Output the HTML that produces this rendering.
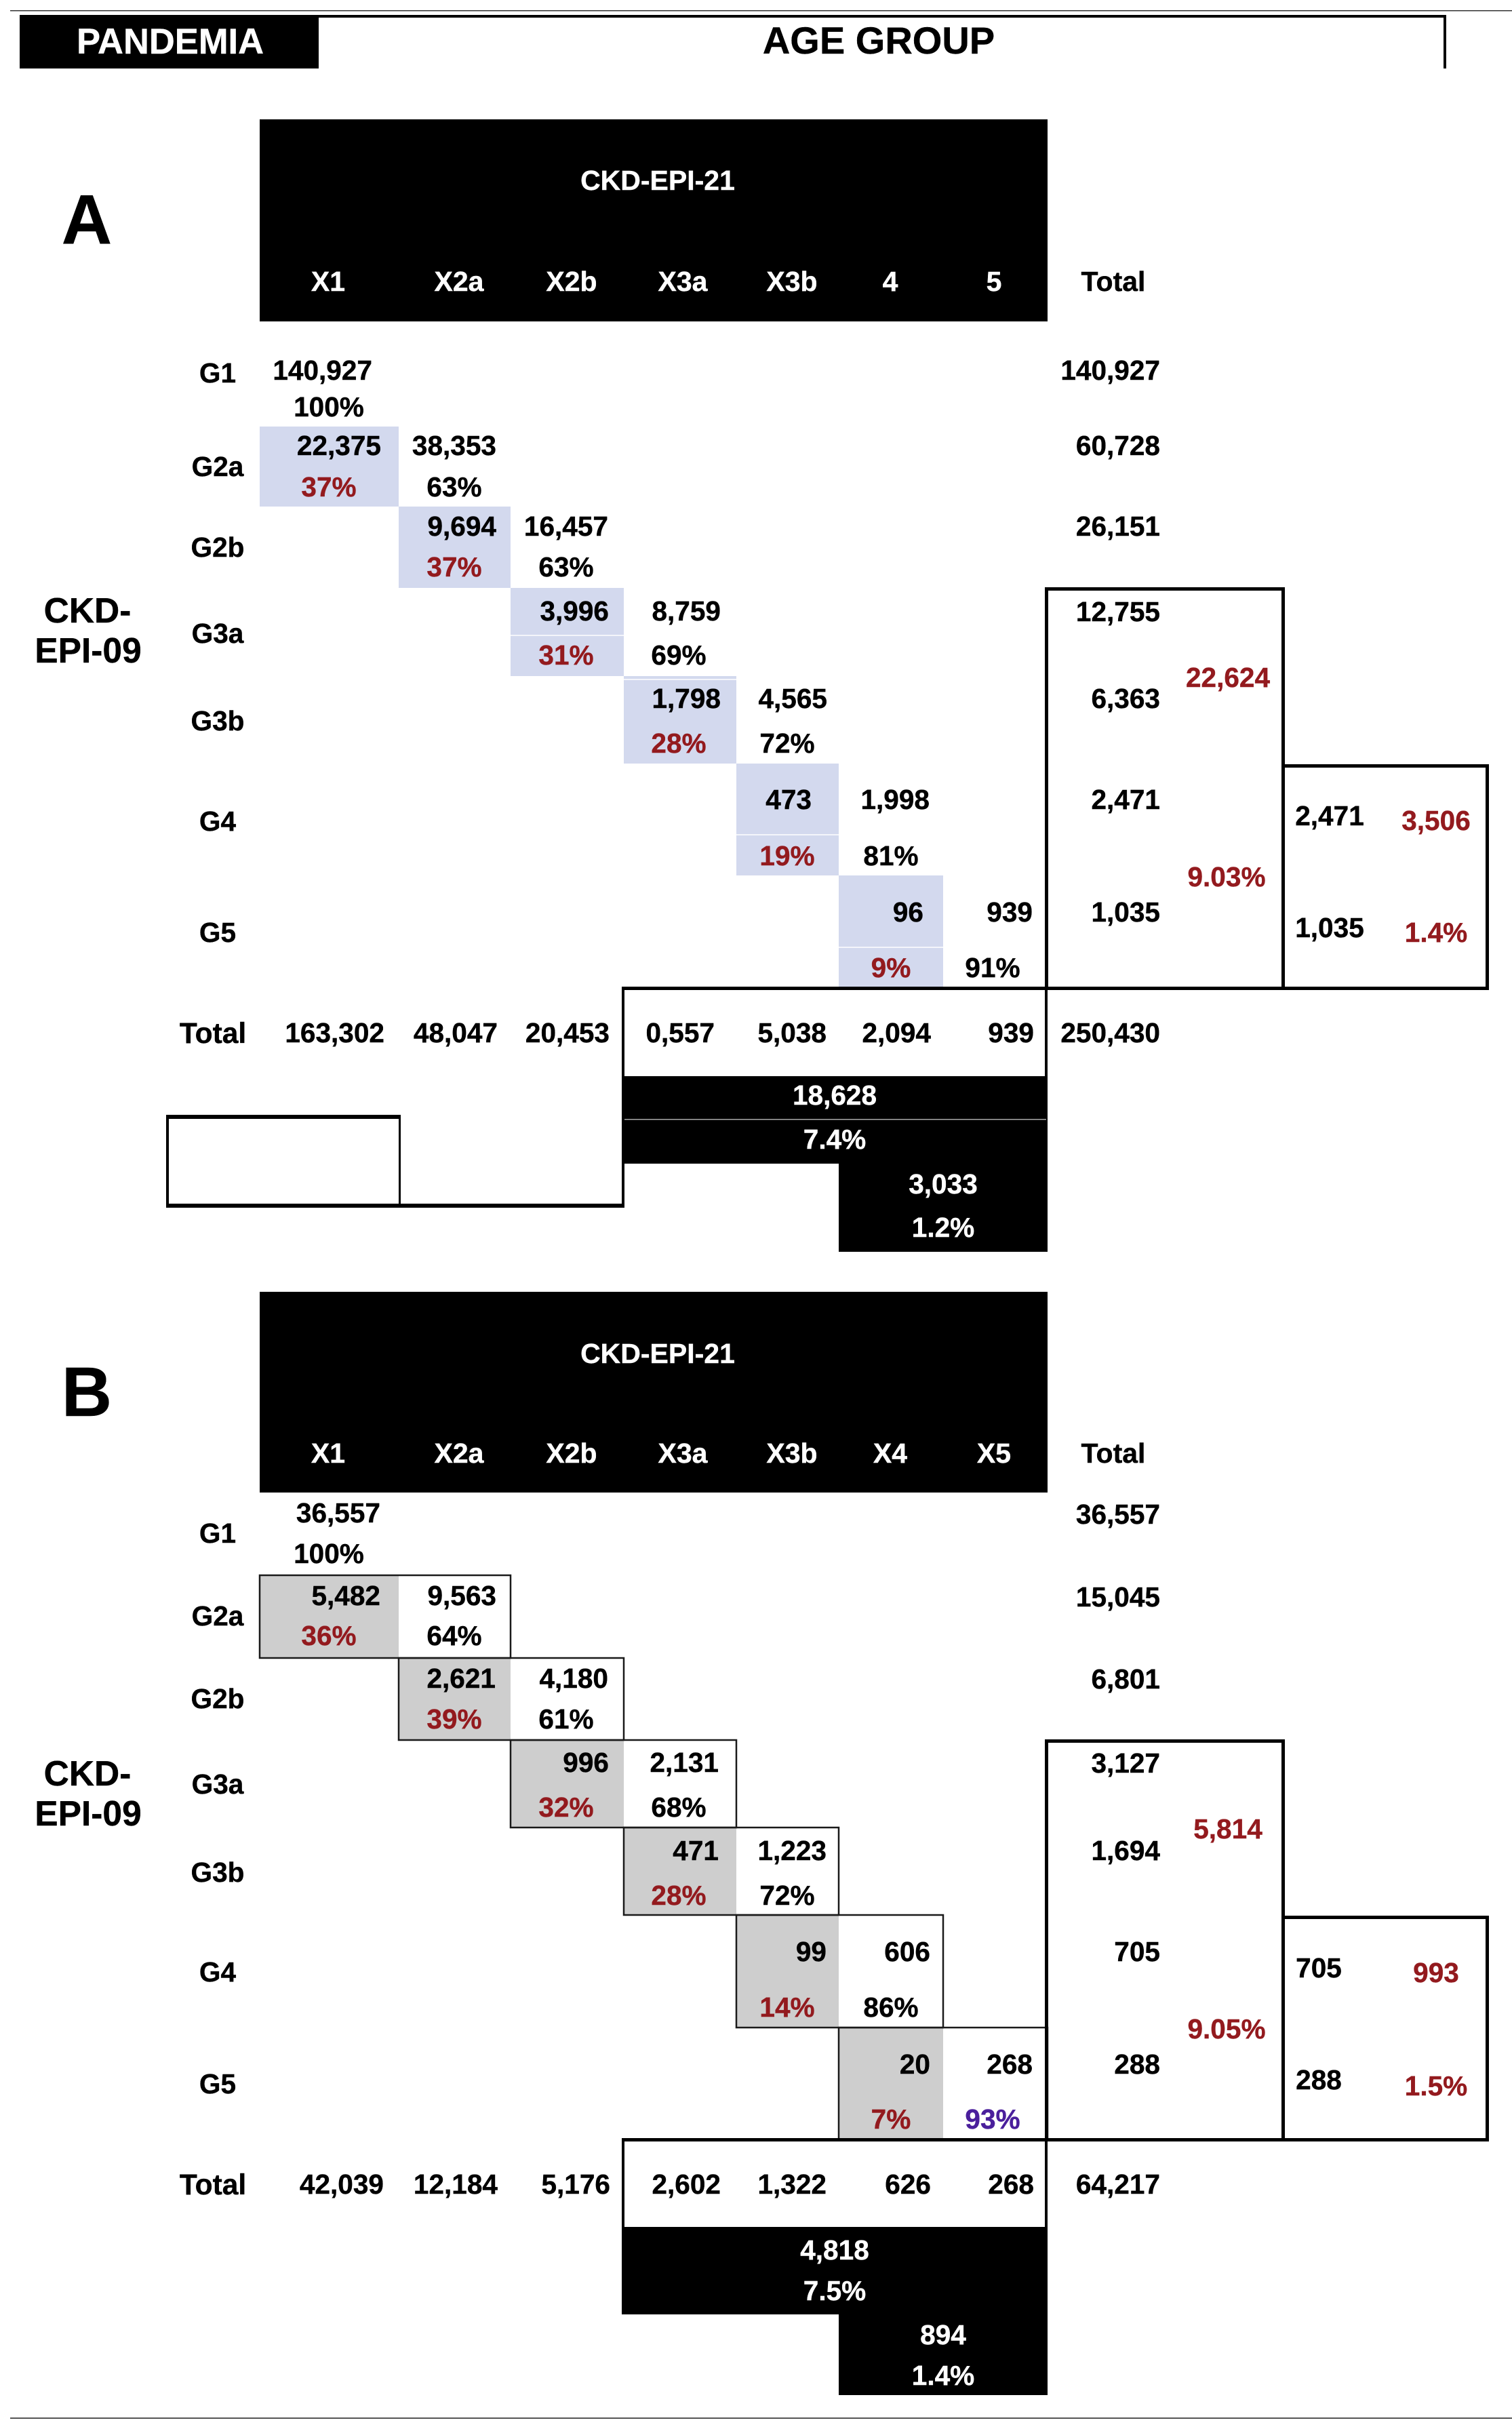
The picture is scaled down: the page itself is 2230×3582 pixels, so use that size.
<!DOCTYPE html>
<html lang="en">
<head>
<meta charset="utf-8">
<title>CKD-EPI-09 vs CKD-EPI-21 reclassification, pandemia by age group</title>
<style>
html,body{margin:0;padding:0;background:#fff;}
svg{display:block;}
text{font-family:"Liberation Sans",Arial,sans-serif;font-weight:700;}
</style>
</head>
<body>
<svg id="chart" xmlns="http://www.w3.org/2000/svg" width="2230" height="3582" viewBox="0 0 2230 3582">
  <rect x="0" y="0" width="2230" height="3582" fill="#ffffff"/>
  <rect x="15" y="15" width="2215" height="1.5" fill="#333333"/>
  <rect x="15" y="3565" width="2215" height="2" fill="#555555"/>
  <rect x="29" y="22" width="2104" height="4" fill="#000000"/>
  <rect x="2129" y="22" width="4" height="79" fill="#000000"/>
  <rect x="29" y="22" width="441" height="79" fill="#000000"/>
  <text x="251" y="79" font-size="52.5" fill="#ffffff" stroke="#ffffff" stroke-width="0.4" text-anchor="middle">PANDEMIA</text>
  <text x="1296" y="79" font-size="56" fill="#000000" stroke="#000000" stroke-width="0.4" text-anchor="middle">AGE GROUP</text>
  <g id="panel-a"></g>
  <g id="panel-b"></g>
</svg>
<script>
const rowLabels = ['G1', 'G2a', 'G2b', 'G3a', 'G3b', 'G4', 'G5'];
const colLabelsA = ['X1', 'X2a', 'X2b', 'X3a', 'X3b', '4', '5'];
const colLabelsB = ['X1', 'X2a', 'X2b', 'X3a', 'X3b', 'X4', 'X5'];

const reclassCountA = ['22,375', '9,694', '3,996', '1,798', '473', '96'];
const reclassPctA = ['37%', '37%', '31%', '28%', '19%', '9%'];
const stayCountA = ['140,927', '38,353', '16,457', '8,759', '4,565', '1,998', '939'];
const stayPctA = ['100%', '63%', '63%', '69%', '72%', '81%', '91%'];
const rowTotalA = ['140,927', '60,728', '26,151', '12,755', '6,363', '2,471', '1,035'];
const colTotalA = ['163,302', '48,047', '20,453', '0,557', '5,038', '2,094', '939'];
const grandTotalA = '250,430';
const summaryG3A = ['22,624', '9.03%'];
const summaryG4G5A = ['2,471', '1,035'];
const summaryG4A = ['3,506', '1.4%'];
const summaryX3A = ['18,628', '7.4%'];
const summaryX4A = ['3,033', '1.2%'];

const reclassCountB = ['5,482', '2,621', '996', '471', '99', '20'];
const reclassPctB = ['36%', '39%', '32%', '28%', '14%', '7%'];
const stayCountB = ['36,557', '9,563', '4,180', '2,131', '1,223', '606', '268'];
const stayPctB = ['100%', '64%', '61%', '68%', '72%', '86%', '93%'];
const rowTotalB = ['36,557', '15,045', '6,801', '3,127', '1,694', '705', '288'];
const colTotalB = ['42,039', '12,184', '5,176', '2,602', '1,322', '626', '268'];
const grandTotalB = '64,217';
const summaryG3B = ['5,814', '9.05%'];
const summaryG4G5B = ['705', '288'];
const summaryG4B = ['993', '1.5%'];
const summaryX3B = ['4,818', '7.5%'];
const summaryX4B = ['894', '1.4%'];

const SVGNS = 'http://www.w3.org/2000/svg';
const RED = '#931a1e';
const PURPLE = '#4a1f9c';
const BODY = 40.6;
const colEdge = function (i) { return [383, 588, 753, 920, 1086, 1237, 1391, 1545][i]; };
const colHeadX = function (i) { return [484, 677, 843, 1007, 1168, 1313, 1466][i]; };
const pctCenter = function (i) { return [485, 670, 835, 1001, 1161, 1314, 1464][i]; };
const totalRight = [566, 733, 898, 1053, 1218, 1372, 1524];

function addText(parent, x, y, str, anchor, fill, size, name) {
  const el = document.createElementNS(SVGNS, 'text');
  const isBody = size === BODY;
  el.setAttribute('x', anchor === 'end' ? x + 1 : x);
  el.setAttribute('y', isBody ? y - 1 : y);
  el.setAttribute('text-anchor', anchor);
  el.setAttribute('fill', fill);
  el.setAttribute('stroke', fill);
  el.setAttribute('stroke-width', '0.4');
  el.setAttribute('font-size', size);
  
  
  el.textContent = str;
  parent.appendChild(el);
  return el;
}

function addRect(parent, x, y, w, h, fill, name) {
  const el = document.createElementNS(SVGNS, 'rect');
  el.setAttribute('x', x);
  el.setAttribute('y', y);
  el.setAttribute('width', w);
  el.setAttribute('height', h);
  el.setAttribute('fill', fill);
  
  
  parent.appendChild(el);
  return el;
}

function drawPanel(p) {
  const g = document.getElementById(p.id);
  // header band
  addRect(g, 383, p.headTop, 1162, p.headBottom - p.headTop, '#000000', 'header-band');
  addText(g, 970, p.titleY, 'CKD-EPI-21', 'middle', '#ffffff', 41, 'column-axis-title');
  p.colLabels.forEach(function (c, i) {
    addText(g, colHeadX(i), p.headLabelY, c, 'middle', '#ffffff', 41, 'column-label-' + c.toLowerCase());
  });
  addText(g, 1642, p.headLabelY, 'Total', 'middle', '#000000', 41, 'total-column-label');
  addText(g, 128, p.letterY, p.letter, 'middle', '#000000', 103, 'panel-letter');
  addText(g, 129, p.axisY[0], 'CKD-', 'middle', '#000000', 51.5, 'row-axis-title-line-1');
  addText(g, 130, p.axisY[1], 'EPI-09', 'middle', '#000000', 51.5, 'row-axis-title-line-2');

  // shaded reclassified cells
  p.reclassCount.forEach(function (v, i) {
    const r = i + 1;
    addRect(g, colEdge(i), p.rowEdge[i], colEdge(i + 1) - colEdge(i), p.rowEdge[i + 1] - p.rowEdge[i], p.shade, 'reclassified-cell-' + rowLabels[r].toLowerCase());
  });
  p.hairlines.forEach(function (h, k) {
    addRect(g, colEdge(h[0]), h[1], colEdge(h[0] + 1) - colEdge(h[0]), 2, '#f4f5fb', 'cell-divider-' + k);
  });

  // outlined row pairs (panel B)
  if (p.outlined) {
    p.reclassCount.forEach(function (v, i) {
      const r = i + 1;
      const el = addRect(g, colEdge(i), p.rowEdge[i], colEdge(i + 2) - colEdge(i), p.rowEdge[i + 1] - p.rowEdge[i], 'none', 'row-outline-' + rowLabels[r].toLowerCase());
      el.setAttribute('stroke', '#1a1a1a');
      el.setAttribute('stroke-width', '2.5');
    });
  }

  // row labels and cells
  rowLabels.forEach(function (label, r) {
    const n = label.toLowerCase();
    addText(g, 321, p.labelY[r], label, 'middle', '#000000', 40.6, 'row-label-' + n);
    addText(g, p.stayRight[r], p.valY[r], p.stayCount[r], 'end', '#000000', BODY, 'same-stage-count-' + n);
    const stayFill = (p.purpleLast && r === 6) ? PURPLE : '#000000';
    addText(g, pctCenter(r), p.pctY[r], p.stayPct[r], 'middle', stayFill, BODY, 'same-stage-percent-' + n);
    addText(g, 1710, p.totalY[r], p.rowTotal[r], 'end', '#000000', BODY, 'row-total-' + n);
    if (r > 0) {
      addText(g, p.shadeRight[r - 1], p.valY[r], p.reclassCount[r - 1], 'end', '#000000', BODY, 'reclassified-count-' + n);
      addText(g, pctCenter(r - 1), p.pctY[r], p.reclassPct[r - 1], 'middle', RED, BODY, 'reclassified-percent-' + n);
    }
  });

  // total row
  addText(g, 314, p.sumY, 'Total', 'middle', '#000000', 42.5, 'total-row-label');
  p.colTotal.forEach(function (v, i) {
    addText(g, p.totalRight[i], p.sumY, v, 'end', '#000000', BODY, 'column-total-' + p.colLabels[i].toLowerCase());
  });
  addText(g, 1710, p.sumY, p.grandTotal, 'end', '#000000', BODY, 'grand-total');

  // boxes
  const b = p.boxBottom;
  addRect(g, 1541, p.rowEdge[2] - 1, 354, 5, '#000000', 'g3-box-top');
  addRect(g, 1541, p.rowEdge[2] - 1, 5, b - p.rowEdge[2] + 3, '#000000', 'g3-box-left');
  addRect(g, 1890, p.rowEdge[2] - 1, 5, b - p.rowEdge[2] + 3, '#000000', 'g3-box-right');
  addRect(g, 1890, p.rowEdge[4] + 1, 306, 5, '#000000', 'g4-box-top');
  addRect(g, 2191, p.rowEdge[4] + 1, 5, b - p.rowEdge[4] + 1, '#000000', 'g4-box-right');
  addRect(g, 917, b - 2, 1279, 5, '#000000', 'total-row-top-rule');
  addRect(g, 917, b, 4, p.leftRuleEnd - b, '#000000', 'x3-box-left');
  addRect(g, 1541, b, 4, p.barTop - b, '#000000', 'x3-box-right');

  // box texts
  addText(g, 1811, p.g3Y[0], p.summaryG3[0], 'middle', RED, BODY, 'g3-plus-count');
  addText(g, 1809, p.g3Y[1], p.summaryG3[1], 'middle', RED, BODY, 'g3-plus-percent');
  addText(g, p.g4X, p.g4LeftY[0], p.summaryG4G5[0], 'middle', '#000000', BODY, 'g4-box-count');
  addText(g, p.g4X, p.g4LeftY[1], p.summaryG4G5[1], 'middle', '#000000', BODY, 'g5-box-count');
  addText(g, 2118, p.g4RightY[0], p.summaryG4[0], 'middle', RED, BODY, 'g4-plus-count');
  addText(g, 2118, p.g4RightY[1], p.summaryG4[1], 'middle', RED, BODY, 'g4-plus-percent');

  // black summary bars
  addRect(g, 917, p.barTop, 628, p.barMid - p.barTop, '#000000', 'x3-summary-bar');
  addRect(g, 1237, p.barMid, 308, p.barEnd - p.barMid, '#000000', 'x4-summary-bar');
  if (p.barDivider) {
    addRect(g, 921, p.barDivider, 622, 1.5, '#a8a8a8', 'x3-summary-divider');
  }
  addText(g, 1231, p.barY[0], p.summaryX3[0], 'middle', '#ffffff', BODY, 'x3-summary-count');
  addText(g, 1231, p.barY[1], p.summaryX3[1], 'middle', '#ffffff', BODY, 'x3-summary-percent');
  addText(g, 1391, p.barY[2], p.summaryX4[0], 'middle', '#ffffff', BODY, 'x4-summary-count');
  addText(g, 1391, p.barY[3], p.summaryX4[1], 'middle', '#ffffff', BODY, 'x4-summary-percent');
}

drawPanel({
  id: 'panel-a', letter: 'A', shade: '#d3d9ee', outlined: false, purpleLast: false,
  colLabels: colLabelsA,
  reclassCount: reclassCountA, reclassPct: reclassPctA, stayCount: stayCountA, stayPct: stayPctA,
  rowTotal: rowTotalA, colTotal: colTotalA, grandTotal: grandTotalA,
  summaryG3: summaryG3A, summaryG4G5: summaryG4G5A, summaryG4: summaryG4A, summaryX3: summaryX3A, summaryX4: summaryX4A,
  headTop: 176, headBottom: 474, titleY: 280, headLabelY: 429, letterY: 359, axisY: [918, 977],
  rowEdge: [629, 747, 867, 997, 1126, 1291, 1455],
  hairlines: [[2, 936], [3, 1001], [4, 1230], [5, 1396]],
  valY: [561, 672, 791, 916, 1045, 1194, 1360],
  pctY: [615, 733, 851, 981, 1111, 1277, 1442],
  labelY: [565, 703, 822, 949, 1078, 1226, 1390],
  totalY: [561, 672, 791, 917, 1045, 1194, 1360],
  stayRight: [548, 731, 896, 1062, 1219, 1370, 1522],
  shadeRight: [561, 731, 897, 1062, 1196, 1361],
  totalRight: totalRight,
  sumY: 1538, boxBottom: 1457, leftRuleEnd: 1781, barTop: 1587, barMid: 1716, barEnd: 1846, barDivider: 1650,
  g3Y: [1014, 1308], g4X: 1961, g4LeftY: [1218, 1383], g4RightY: [1225, 1390],
  barY: [1630, 1695, 1761, 1825]
});

drawPanel({
  id: 'panel-b', letter: 'B', shade: '#cecece', outlined: true, purpleLast: true,
  colLabels: colLabelsB,
  reclassCount: reclassCountB, reclassPct: reclassPctB, stayCount: stayCountB, stayPct: stayPctB,
  rowTotal: rowTotalB, colTotal: colTotalB, grandTotal: grandTotalB,
  summaryG3: summaryG3B, summaryG4G5: summaryG4G5B, summaryG4: summaryG4B, summaryX3: summaryX3B, summaryX4: summaryX4B,
  headTop: 1905, headBottom: 2201, titleY: 2010, headLabelY: 2157, letterY: 2088, axisY: [2633, 2692],
  rowEdge: [2323, 2445, 2566, 2695, 2824, 2990, 3155],
  hairlines: [],
  valY: [2246, 2368, 2490, 2614, 2744, 2893, 3059],
  pctY: [2306, 2427, 2550, 2680, 2810, 2975, 3140],
  labelY: [2276, 2398, 2520, 2646, 2776, 2923, 3088],
  totalY: [2248, 2370, 2491, 2615, 2744, 2893, 3059],
  stayRight: [560, 731, 896, 1059, 1218, 1371, 1522],
  shadeRight: [560, 730, 897, 1059, 1218, 1371],
  totalRight: [565, 733, 899, 1062, 1218, 1372, 1524],
  sumY: 3236, boxBottom: 3155, leftRuleEnd: 3284, barTop: 3284, barMid: 3413, barEnd: 3532, barDivider: 0,
  g3Y: [2712, 3007], g4X: 1945, g4LeftY: [2917, 3082], g4RightY: [2924, 3091],
  barY: [3333, 3393, 3458, 3518]
});

// empty box under panel A
const panelA = document.getElementById('panel-a');
addRect(panelA, 245, 1644, 345, 6, '#000000', 'blank-box-top');
addRect(panelA, 245, 1644, 4, 137, '#000000', 'blank-box-left');
addRect(panelA, 588, 1644, 3, 137, '#000000', 'blank-box-right');
addRect(panelA, 245, 1775, 676, 6, '#000000', 'blank-box-bottom');
</script>
</body>
</html>
